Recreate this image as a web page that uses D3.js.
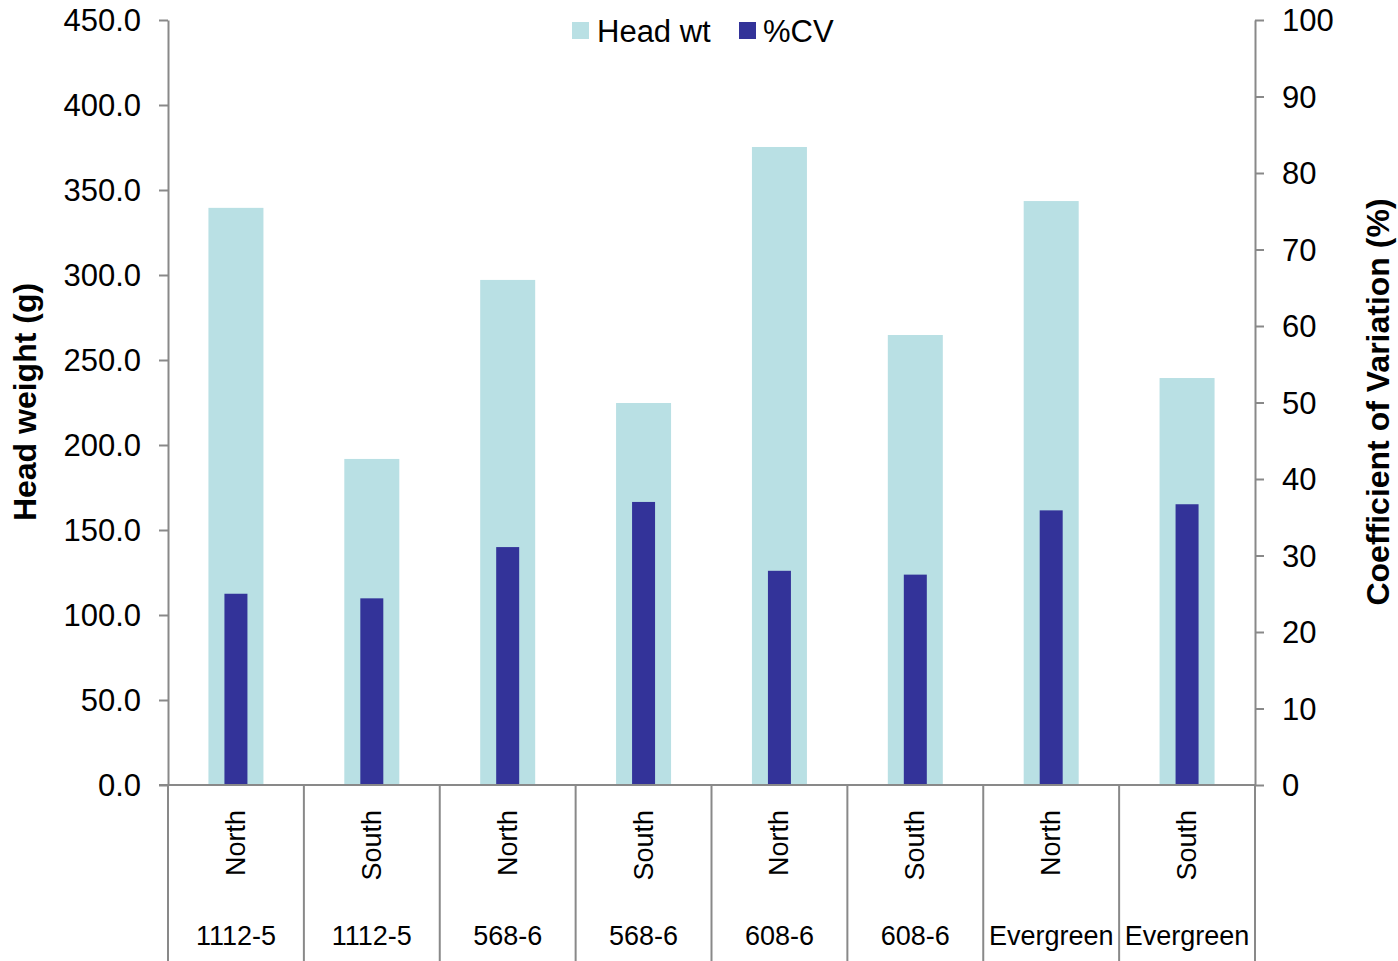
<!DOCTYPE html>
<html><head><meta charset="utf-8">
<script src="https://cdn.jsdelivr.net/npm/d3@7/dist/d3.min.js"></script>
<style>body{margin:0;background:#fff}svg{display:block}text{font-family:"Liberation Sans",Arial,sans-serif;fill:#000}</style>
</head><body><svg id="c" width="1398" height="961"></svg>
<script>
const locations = ["North","South","North","South","North","South","North","South"];
const varieties = ["1112-5","1112-5","568-6","568-6","608-6","608-6","Evergreen","Evergreen"];
const headWt = [339.5, 191.8, 297.1, 224.7, 375.3, 264.7, 343.5, 239.4];
const cv = [25.0, 24.4, 31.1, 37.0, 28.0, 27.5, 35.9, 36.7];
const leftTicks = [0,50,100,150,200,250,300,350,400,450];
const rightTicks = [0,10,20,30,40,50,60,70,80,90,100];
const seriesNames = ["Head wt","%CV"];
const colors = ["#b9e0e4","#333399"];

const svg = d3.select("#c");
const L=168, R=1255, T=20, B=785;
const idx = d3.range(locations.length);
const x = d3.scaleBand().domain(idx).range([L,R]).paddingInner(0).paddingOuter(0);
const yL = d3.scaleLinear().domain([0,450]).range([B,T]);
const yR = d3.scaleLinear().domain([0,100]).range([B,T]);
const axisCol = "#898989";

// bars
const bw = x.bandwidth();
svg.append("g").selectAll("rect").data(idx).join("rect")
  .attr("x", i=>x(i)+bw/2-27.5).attr("width",55)
  .attr("y", i=>yL(headWt[i])).attr("height", i=>B-yL(headWt[i]))
  .attr("fill", colors[0]);
svg.append("g").selectAll("rect").data(idx).join("rect")
  .attr("x", i=>x(i)+bw/2-11.5).attr("width",23)
  .attr("y", i=>yR(cv[i])).attr("height", i=>B-yR(cv[i]))
  .attr("fill", colors[1]);

// left axis
const gl = svg.append("g").attr("transform",`translate(${L},0)`)
  .call(d3.axisLeft(yL).tickValues(leftTicks).tickFormat(d3.format(".1f")).tickSize(9).tickSizeOuter(0));
gl.select(".domain").attr("stroke",axisCol).attr("stroke-width",2);
gl.selectAll(".tick line").attr("stroke",axisCol).attr("stroke-width",2);
gl.selectAll(".tick text").attr("font-size",31).attr("x",-27).attr("dy","0.35em");

// right axis
const gr = svg.append("g").attr("transform",`translate(${R},0)`)
  .call(d3.axisRight(yR).tickValues(rightTicks).tickSize(9).tickSizeOuter(0));
gr.select(".domain").attr("stroke",axisCol).attr("stroke-width",2);
gr.selectAll(".tick line").attr("stroke",axisCol).attr("stroke-width",2);
gr.selectAll(".tick text").attr("font-size",31).attr("x",27).attr("dy","0.35em");

// extended lines
svg.append("line").attr("x1",159).attr("x2",R).attr("y1",B).attr("y2",B).attr("stroke",axisCol).attr("stroke-width",2);
svg.append("g").selectAll("line").data(d3.range(locations.length+1)).join("line")
  .attr("x1", i=>L+i*bw).attr("x2", i=>L+i*bw).attr("y1",B).attr("y2",961)
  .attr("stroke",axisCol).attr("stroke-width",2);

// category labels
svg.append("g").selectAll("text").data(idx).join("text")
  .attr("transform", i=>`translate(${x(i)+bw/2+9},810) rotate(-90)`)
  .attr("text-anchor","end").attr("font-size",27).text(i=>locations[i]);
svg.append("g").selectAll("text").data(idx).join("text")
  .attr("x", i=>x(i)+bw/2).attr("y",945)
  .attr("text-anchor","middle").attr("font-size",27).text(i=>varieties[i]);

// axis titles
svg.append("text").attr("transform","translate(36,402) rotate(-90)").attr("text-anchor","middle")
  .attr("font-size",32).attr("font-weight","bold").text("Head weight (g)");
svg.append("text").attr("transform","translate(1389,402) rotate(-90)").attr("text-anchor","middle")
  .attr("font-size",32).attr("font-weight","bold").text("Coefficient of Variation (%)");

// legend
const leg = [{x:572,tx:597},{x:739,tx:763}];
seriesNames.forEach((n,k)=>{
  svg.append("rect").attr("x",leg[k].x).attr("y",22).attr("width",17).attr("height",17).attr("fill",colors[k]);
  svg.append("text").attr("x",leg[k].tx).attr("y",42).attr("font-size",31).text(n);
});
</script></body></html>
